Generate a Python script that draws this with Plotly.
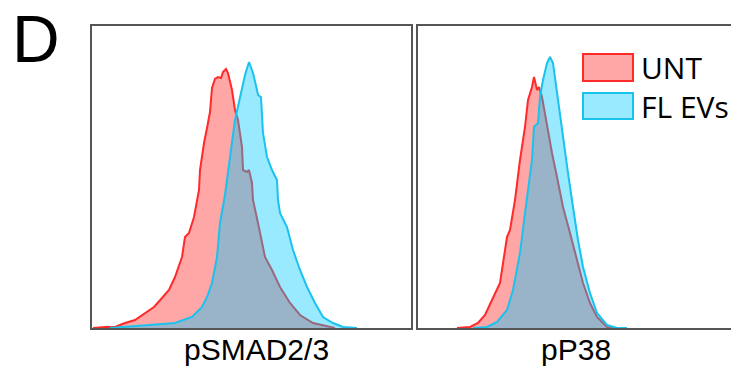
import plotly.graph_objects as go

# ---- data (arbitrary intensity units / cell counts) ----
smad_unt_x = [1, 13, 23, 33, 43, 53, 62, 70, 77, 83, 90, 93, 97, 102, 107, 108, 112, 115, 118, 120,
              123, 126, 129, 131, 134, 136, 140, 143, 146, 150, 151, 155, 157, 160, 161, 166, 173,
              180, 188, 198, 208, 221, 238, 243]
smad_unt_y = [0, 1, 1, 5, 8, 15, 21, 30, 38, 51, 71, 91, 95, 111, 138, 158, 185, 200, 216, 240,
              249, 251, 250, 256, 259, 255, 238, 218, 208, 181, 158, 156, 158, 145, 128, 105, 71,
              58, 41, 25, 13, 5, 1, 0]
smad_ev_x = [18, 33, 57, 83, 100, 110, 115, 120, 125, 128, 133, 138, 143, 147, 150, 153, 157, 161,
             165, 166, 169, 170, 171, 175, 180, 185, 186, 188, 195, 201, 208, 215, 223, 231, 241,
             251, 265]
smad_ev_y = [0, 1, 3, 5, 11, 21, 31, 45, 71, 105, 133, 168, 208, 226, 241, 253, 266, 255, 238,
             233, 231, 211, 195, 171, 158, 148, 128, 115, 101, 78, 58, 41, 25, 11, 5, 1, 0]

p38_unt_x = [39, 52, 60, 67, 74, 82, 89, 92, 97, 102, 107, 110, 114, 116, 119, 121, 124, 129, 134,
             139, 145, 152, 159, 165, 172, 179, 189, 199]
p38_unt_y = [0, 1, 5, 13, 28, 45, 91, 98, 128, 168, 201, 228, 241, 251, 238, 241, 231, 201, 175,
             151, 121, 95, 68, 45, 25, 11, 1, 0]
p38_ev_x = [55, 69, 79, 89, 95, 102, 107, 114, 116, 120, 122, 125, 129, 132, 135, 139, 142, 145,
            150, 155, 160, 165, 172, 179, 189, 199, 209]
p38_ev_y = [0, 1, 6, 18, 38, 75, 115, 168, 201, 205, 231, 248, 265, 271, 265, 235, 211, 188, 155,
            121, 88, 61, 35, 15, 3, 0, 0]

panel_titles = ["pSMAD2/3", "pP38"]
series_names = ["UNT", "FL EVs"]

RED_LINE = "#ff2a2a"
RED_FILL = "rgba(255,0,0,0.35)"
CY_LINE = "#19c3ee"
CY_FILL = "rgba(0,200,255,0.40)"

W, H = 731, 368
fig = go.Figure()

def add(x, y, line, fill, xa, ya):
    fig.add_trace(go.Scatter(x=x, y=y, mode="lines", fill="tozeroy", fillcolor=fill,
                             line=dict(color=line, width=2), xaxis=xa, yaxis=ya,
                             showlegend=False, hoverinfo="skip"))

add(smad_unt_x, smad_unt_y, RED_LINE, RED_FILL, "x", "y")
add(smad_ev_x, smad_ev_y, CY_LINE, CY_FILL, "x", "y")
add(p38_unt_x, p38_unt_y, RED_LINE, RED_FILL, "x2", "y2")
add(p38_ev_x, p38_ev_y, CY_LINE, CY_FILL, "x2", "y2")

ydom = [1 - 328 / H, 1 - 26 / H]
axcol = "#555555"
common = dict(showgrid=False, zeroline=False, showticklabels=False, ticks="",
              showline=True, linecolor=axcol, linewidth=1.5)

fig.update_layout(
    width=W, height=H, margin=dict(l=0, r=0, t=0, b=0),
    paper_bgcolor="white", plot_bgcolor="white",
    xaxis=dict(domain=[92 / W, 411 / W], range=[0, 319], mirror=True, anchor="y", **common),
    yaxis=dict(domain=ydom, range=[0, 302], mirror=True, anchor="x", **common),
    xaxis2=dict(domain=[418 / W, 1.0], range=[0, 313], mirror=True, anchor="y2", **common),
    yaxis2=dict(domain=ydom, range=[0, 302], mirror=False, anchor="x2", **common),
)

LAB_FONT = "Liberation Sans"
LEG_FONT = "Open Sans"
ann = []
ann.append(dict(text="D", x=10 / W, y=1.0, xref="paper", yref="paper",
                xanchor="left", yanchor="top", showarrow=False,
                font=dict(family=LAB_FONT, size=66, color="black")))
ann.append(dict(text=panel_titles[0], x=256 / W, y=0.0, xref="paper", yref="paper",
                xanchor="center", yanchor="bottom", showarrow=False,
                font=dict(family=LAB_FONT, size=30, color="black")))
ann.append(dict(text=panel_titles[1], x=576 / W, y=0.0, xref="paper", yref="paper",
                xanchor="center", yanchor="bottom", showarrow=False,
                font=dict(family=LAB_FONT, size=30, color="black")))

# legend drawn as boxes + labels
shapes = []
leg = [(series_names[0], RED_LINE, RED_FILL, 54, 81), (series_names[1], CY_LINE, CY_FILL, 93, 119)]
for name, lc, fc, y0, y1 in leg:
    shapes.append(dict(type="rect", xref="paper", yref="paper",
                       x0=583 / W, x1=633 / W, y0=1 - y1 / H, y1=1 - y0 / H,
                       fillcolor=fc, line=dict(color=lc, width=2)))
    ann.append(dict(text=name, x=639 / W, y=1 - (y0 + y1) / 2 / H, xref="paper", yref="paper",
                    xanchor="left", yanchor="middle", showarrow=False,
                    font=dict(family=LEG_FONT, size=30, color="black")))

fig.update_layout(annotations=ann, shapes=shapes)
fig.write_html("out.html")
